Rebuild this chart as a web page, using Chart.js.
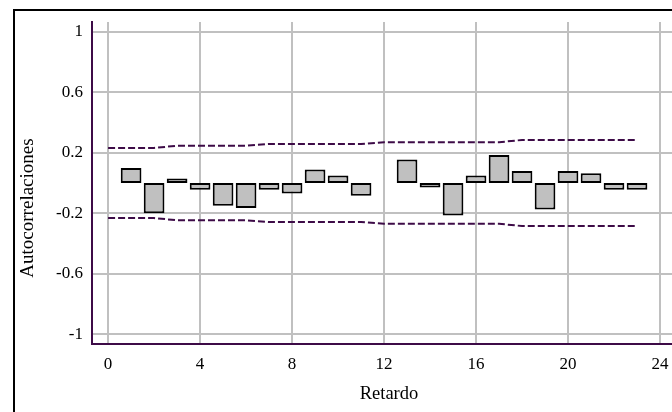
<!DOCTYPE html>
<html>
<head>
<meta charset="utf-8">
<script src="https://cdn.jsdelivr.net/npm/chart.js@4.4.1/dist/chart.umd.min.js"></script>
<style>
  html, body { margin: 0; padding: 0; overflow: hidden; background: #fff; }
  #frame { position: absolute; left: 13px; top: 9px; width: 720px; height: 460px; border: 2px solid #000; }
  #wrap { position: absolute; left: 0; top: 0; width: 700px; height: 412px; }
</style>
</head>
<body>
<div id="frame"></div>
<div id="wrap"><canvas id="acfChart"></canvas></div>
<script>
// lags and autocorrelation values
const lags = [1, 2, 3, 4, 5, 6, 7, 8, 9, 10, 11, 12, 13, 14, 15, 16, 17, 18, 19, 20, 21, 22, 23];
const acf = [0.10, -0.20, 0.03, -0.045, -0.15, -0.165, -0.045, -0.07, 0.09, 0.05, -0.085, 0,
             0.155, -0.03, -0.215, 0.05, 0.185, 0.08, -0.175, 0.08, 0.065, -0.045, -0.045];

// confidence band (+/-) per lag
const bandLags = [0, 1, 2, 3, 4, 5, 6, 7, 8, 9, 10, 11, 12, 13, 14, 15, 16, 17, 18, 19, 20, 21, 22, 23];
const band = [0.232, 0.232, 0.232, 0.247, 0.247, 0.247, 0.247, 0.258, 0.258, 0.258, 0.258, 0.258,
              0.27, 0.27, 0.27, 0.27, 0.27, 0.27, 0.285, 0.285, 0.285, 0.285, 0.285, 0.285];

// tick labels
const xTicks = [0, 4, 8, 12, 16, 20, 24];
const yTicks = [-1, -0.6, -0.2, 0.2, 0.6, 1];
const yTickLabels = ['-1', '-0.6', '-0.2', '0.2', '0.6', '1'];

const serif = "'Liberation Serif', 'Times New Roman', serif";
const axisColor = '#3d0b47';
const gridColor = '#c0c0c0';

const barData = lags.map((l, i) => ({ x: l, y: acf[i] }));
const upperData = bandLags.map((l, i) => ({ x: l, y: band[i] }));
const lowerData = bandLags.map((l, i) => ({ x: l, y: -band[i] }));

const bandStyle = {
  type: 'line',
  borderColor: axisColor,
  borderWidth: 2,
  borderDash: [7, 3],
  pointRadius: 0,
  tension: 0,
  fill: false,
};

// vertical y axis title, sits a bit below the plot centre
const yTitle = {
  id: 'yTitle',
  afterDraw(chart) {
    const c = chart.ctx;
    const area = chart.chartArea;
    c.save();
    c.translate(28.5, (area.top + area.bottom) / 2 + 25);
    c.rotate(-Math.PI / 2);
    c.font = '19px ' + serif;
    c.fillStyle = '#000';
    c.textAlign = 'center';
    c.textBaseline = 'middle';
    c.fillText('Autocorrelaciones', 0, 0);
    c.restore();
  },
};

let ctx = document.getElementById('acfChart').getContext('2d');
let chart = new Chart(ctx, {
  type: 'bar',
  data: {
    datasets: [
      {
        label: 'ACF',
        data: barData,
        backgroundColor: '#c0c0c0',
        borderColor: '#000',
        borderWidth: 2,
        borderSkipped: false,
        barPercentage: 0.9,
        categoryPercentage: 1.0,
        order: 2,
      },
      Object.assign({ label: 'upper', data: upperData, order: 1 }, bandStyle),
      Object.assign({ label: 'lower', data: lowerData, order: 1 }, bandStyle),
    ],
  },
  plugins: [yTitle],
  options: {
    responsive: true,
    maintainAspectRatio: false,
    animation: false,
    layout: { padding: { top: 22, right: 14, left: 0, bottom: 0 } },
    plugins: { legend: { display: false }, tooltip: { enabled: false } },
    scales: {
      x: {
        type: 'linear',
        offset: false,
        min: -0.7,
        max: 25.13,
        afterBuildTicks: (s) => { s.ticks = xTicks.map(v => ({ value: v })); },
        afterFit: (s) => { s.height = 68; },
        ticks: {
          color: '#000',
          padding: 10,
          maxRotation: 0,
          font: { family: serif, size: 17 },
          callback: (v) => String(v),
        },
        grid: { color: gridColor, lineWidth: 2, drawTicks: false, offset: false },
        border: { display: true, color: axisColor, width: 2 },
        title: {
          display: true,
          text: 'Retardo',
          color: '#000',
          font: { family: serif, size: 18.5 },
          padding: { top: 0, bottom: 7 },
        },
      },
      y: {
        min: -1.066,
        max: 1.066,
        afterBuildTicks: (s) => { s.ticks = yTicks.map(v => ({ value: v })); },
        afterFit: (s) => { s.width = 92; },
        ticks: {
          color: '#000',
          padding: 9,
          font: { family: serif, size: 17 },
          callback: (v) => yTickLabels[yTicks.indexOf(v)],
        },
        grid: { color: gridColor, lineWidth: 2, drawTicks: false },
        border: { display: true, color: axisColor, width: 2 },
      },
    },
  },
});
</script>
</body>
</html>
